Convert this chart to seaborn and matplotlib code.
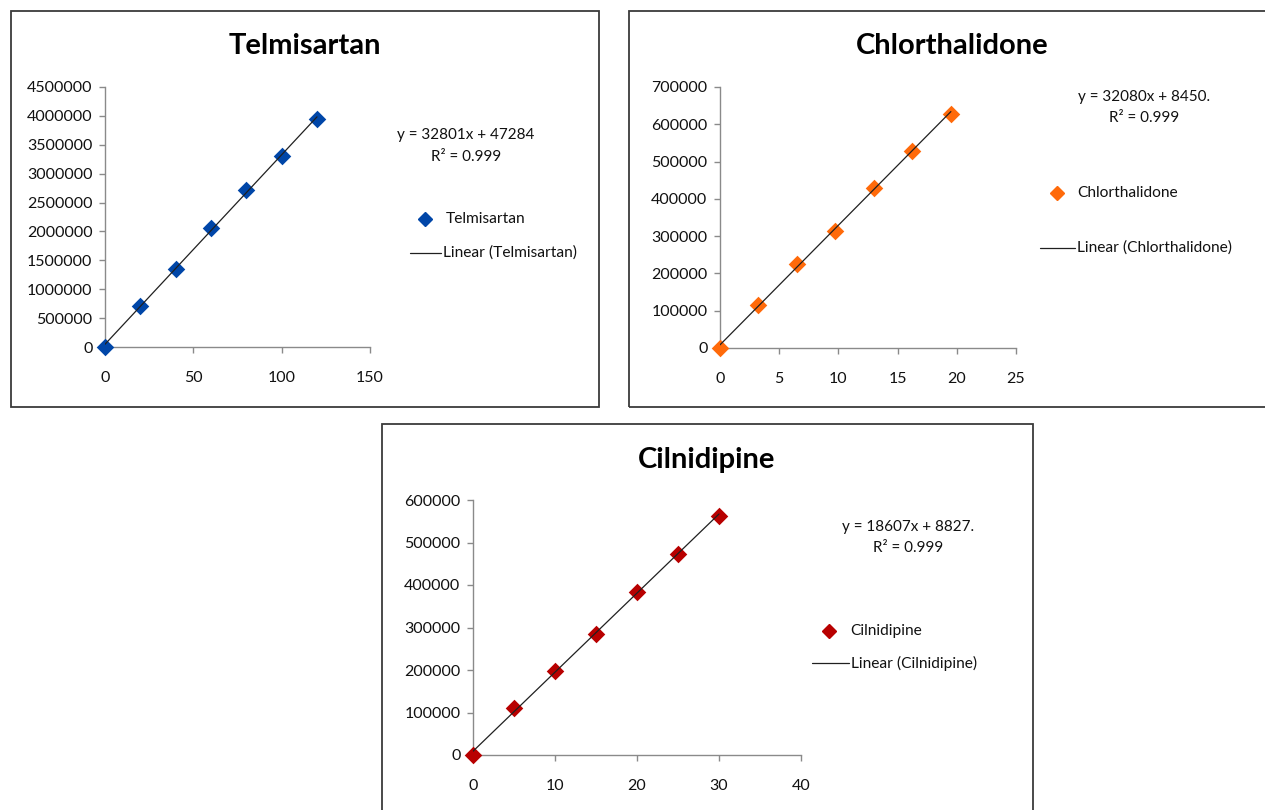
import numpy as np
import pandas as pd
import matplotlib
matplotlib.use("Agg")
import matplotlib.pyplot as plt
import seaborn as sns
from matplotlib.lines import Line2D
from matplotlib.patches import Rectangle
from matplotlib.ticker import FuncFormatter, MultipleLocator

# ---------------- data ----------------
telmi_x = [0, 20, 40, 60, 80, 100, 120]
telmi_y = [0, 710000, 1350000, 2060000, 2720000, 3310000, 3950000]
telmi_fit = (32801, 47284)

chlor_x = [0, 3.25, 6.5, 9.75, 13, 16.25, 19.5]
chlor_y = [0, 115000, 226000, 313000, 429000, 528000, 627000]
chlor_fit = (32080, 8450)

cilni_x = [0, 5, 10, 15, 20, 25, 30]
cilni_y = [0, 110000, 197000, 285000, 384000, 472000, 562000]
cilni_fit = (18607, 8827)

names = ["Telmisartan", "Chlorthalidone", "Cilnidipine"]
equations = ["y = 32801x + 47284", "y = 32080x + 8450.", "y = 18607x + 8827."]
r2_labels = ["R² = 0.999", "R² = 0.999", "R² = 0.999"]
colors = ["#0046A8", "#FF6A0A", "#B80000"]

# ---------------- style ----------------
sns.set_theme(style="ticks")
plt.rcParams["font.family"] = ["Lato", "DejaVu Sans"]

W, H = 1265, 810
fig = plt.figure(figsize=(W / 100, H / 100), dpi=100)
fig.patch.set_facecolor("white")


def fx(px):
    return px / W


def fy(py):
    return 1 - py / H


def ax_rect(l, r, t, b):
    return [fx(l), fy(b), fx(r) - fx(l), fy(t) - fy(b)]


panels = [
    dict(x=telmi_x, y=telmi_y, fit=telmi_fit,
         box=(11, 11, 599, 407), axes=(105, 370, 87, 347),
         xlim=(0, 150), xstep=50, ylim=(0, 4500000), ystep=500000,
         title_xy=(305, 46), eq_xy=(466, 135), r2_xy=(466, 157),
         mk_xy=(425, 219), leg_txt_x=446, ln_xy=(410, 441, 253)),
    dict(x=chlor_x, y=chlor_y, fit=chlor_fit,
         box=(629, 11, 1275, 407), axes=(720, 1016, 87, 348),
         xlim=(0, 25), xstep=5, ylim=(0, 700000), ystep=100000,
         title_xy=(952, 46), eq_xy=(1144, 97), r2_xy=(1144, 118),
         mk_xy=(1057, 193), leg_txt_x=1077, ln_xy=(1040, 1075, 248)),
    dict(x=cilni_x, y=cilni_y, fit=cilni_fit,
         box=(382, 424, 1033, 820), axes=(473, 801, 500, 755),
         xlim=(0, 40), xstep=10, ylim=(0, 600000), ystep=100000,
         title_xy=(707, 460), eq_xy=(908, 527), r2_xy=(908, 548),
         mk_xy=(829, 631), leg_txt_x=850, ln_xy=(812, 849, 663)),
]

for i, p in enumerate(panels):
    l, t, r, b = p["box"]
    fig.add_artist(Rectangle((fx(l), fy(b)), fx(r) - fx(l), fy(t) - fy(b),
                             transform=fig.transFigure, fill=False,
                             edgecolor="#3a3a3a", lw=1.3, zorder=0))
    al, ar, at, ab = p["axes"]
    ax = fig.add_axes(ax_rect(al, ar, at, ab))
    ax.set_facecolor("none")

    df = pd.DataFrame({"x": p["x"], "y": p["y"]})
    sns.scatterplot(data=df, x="x", y="y", ax=ax, marker="D", s=80,
                    color=colors[i], edgecolor=colors[i], linewidth=0,
                    zorder=3, clip_on=False)
    slope, icpt = p["fit"]
    xf = np.array([0, max(p["x"])])
    fit_df = pd.DataFrame({"x": xf, "y": slope * xf + icpt})
    sns.lineplot(data=fit_df, x="x", y="y", ax=ax, color="#202020",
                 lw=0.9, zorder=4)

    ax.set_xlim(*p["xlim"])
    ax.set_ylim(*p["ylim"])
    ax.xaxis.set_major_locator(MultipleLocator(p["xstep"]))
    ax.yaxis.set_major_locator(MultipleLocator(p["ystep"]))
    ax.yaxis.set_major_formatter(FuncFormatter(lambda v, pos: f"{int(round(v))}"))
    ax.xaxis.set_major_formatter(FuncFormatter(lambda v, pos: f"{v:g}"))
    ax.set_xlabel("")
    ax.set_ylabel("")
    for s in ["top", "right"]:
        ax.spines[s].set_visible(False)
    for s in ["left", "bottom"]:
        ax.spines[s].set_color("#8a8a8a")
        ax.spines[s].set_linewidth(1.0)
    ax.tick_params(axis="both", direction="out", length=4, width=1.0,
                   color="#8a8a8a", labelsize=11.5, labelcolor="#111111")
    ax.tick_params(axis="y", pad=5)
    ax.tick_params(axis="x", pad=13)
    ax.grid(False)

    tx, ty = p["title_xy"]
    fig.text(fx(tx), fy(ty), names[i], ha="center", va="center",
             fontsize=21, fontweight="bold", color="black")
    ex, ey = p["eq_xy"]
    fig.text(fx(ex), fy(ey), equations[i], ha="center", va="center",
             fontsize=11, color="#111111")
    rx, ry = p["r2_xy"]
    fig.text(fx(rx), fy(ry), r2_labels[i], ha="center", va="center",
             fontsize=11, color="#111111")

    mx, my = p["mk_xy"]
    fig.add_artist(Line2D([fx(mx)], [fy(my)], transform=fig.transFigure,
                          marker="D", markersize=7, color=colors[i], lw=0))
    fig.text(fx(p["leg_txt_x"]), fy(my), names[i], ha="left", va="center",
             fontsize=11.2, color="#111111")
    lx1, lx2, ly = p["ln_xy"]
    fig.add_artist(Line2D([fx(lx1), fx(lx2)], [fy(ly), fy(ly)],
                          transform=fig.transFigure, color="#202020", lw=0.9))
    fig.text(fx(lx2 + 2), fy(ly), f"Linear ({names[i]})", ha="left",
             va="center", fontsize=11.2, color="#111111")

fig.savefig("out.png", dpi=100, facecolor="white")
